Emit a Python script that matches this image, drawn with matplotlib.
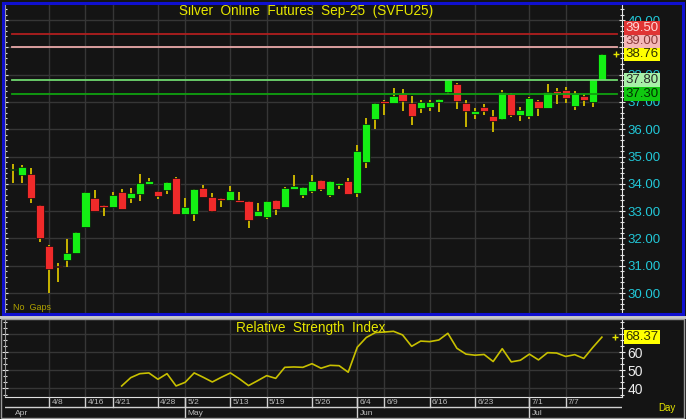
import matplotlib
matplotlib.use("Agg")
import matplotlib.pyplot as plt
import matplotlib.transforms as mtransforms
from matplotlib.patches import Rectangle
from matplotlib.ticker import MultipleLocator

plt.rcParams['font.family'] = ['Liberation Sans', 'DejaVu Sans']

# ---- data ----
dates = ['4/2', '4/3', '4/4', '4/7', '4/8', '4/9', '4/10', '4/11', '4/16', '4/17',
         '4/18', '4/21', '4/22', '4/23', '4/24', '4/25', '4/28', '4/29', '4/30', '5/2',
         '5/6', '5/7', '5/8', '5/9', '5/13', '5/14', '5/15', '5/16', '5/19', '5/20',
         '5/21', '5/22', '5/23', '5/26', '5/27', '5/28', '5/29', '5/30', '6/4', '6/5',
         '6/6', '6/9', '6/10', '6/11', '6/12', '6/13', '6/16', '6/17', '6/18', '6/19',
         '6/20', '6/23', '6/24', '6/25', '6/26', '6/27', '6/30', '7/1', '7/2', '7/3',
         '7/4', '7/7', '7/8', '7/9', '7/10', '7/11']

opens = [34.50, 34.33, 34.38, 33.22, 31.73, 31.00, 31.21, 31.48, 32.41, 33.49,
         33.22, 33.14, 33.72, 33.49, 33.63, 34.00, 33.73, 33.76, 34.22, 32.89,
         32.90, 33.86, 33.53, 33.49, 33.40, 33.42, 33.36, 32.81, 32.80, 33.40,
         33.16, 33.82, 33.59, 33.74, 34.16, 33.60, 33.97, 34.09, 33.66, 34.80,
         36.39, 37.02, 36.97, 37.29, 36.95, 36.79, 36.81, 36.99, 37.36, 37.66,
         36.96, 36.56, 36.81, 36.48, 36.38, 37.29, 36.53, 36.48, 37.04, 36.79,
         37.39, 37.44, 36.86, 37.22, 36.99, 37.80]
highs = [34.73, 34.69, 34.59, 33.22, 31.75, 31.11, 31.97, 32.22, 33.69, 33.76,
         33.22, 33.69, 33.83, 33.86, 34.36, 34.20, 33.73, 34.07, 34.27, 33.49,
         33.82, 33.96, 33.66, 33.49, 33.93, 33.70, 33.36, 33.30, 33.36, 33.40,
         33.90, 34.32, 33.89, 34.32, 34.16, 34.09, 34.05, 34.20, 35.42, 36.40,
         36.95, 37.09, 37.50, 37.47, 37.21, 37.07, 37.09, 37.11, 37.86, 37.71,
         37.09, 36.78, 36.91, 36.69, 37.44, 37.32, 36.83, 37.19, 37.09, 37.66,
         37.52, 37.55, 37.41, 37.30, 37.83, 38.76]
lows = [34.04, 34.04, 33.31, 31.88, 30.01, 30.41, 30.94, 31.48, 32.41, 33.00,
        32.83, 33.14, 33.09, 33.29, 33.38, 34.00, 33.45, 33.63, 32.90, 32.89,
        32.65, 33.53, 32.98, 33.16, 33.40, 33.32, 32.40, 32.81, 32.71, 32.87,
        33.16, 33.82, 33.49, 33.66, 33.75, 33.53, 33.81, 33.64, 33.53, 34.60,
        36.00, 36.53, 36.95, 36.68, 36.15, 36.58, 36.68, 36.64, 37.30, 36.75,
        36.09, 36.38, 36.51, 35.91, 36.33, 36.46, 36.29, 36.38, 36.48, 36.79,
        36.92, 36.95, 36.70, 36.84, 36.83, 37.80]
closes = [34.55, 34.62, 33.47, 32.00, 30.88, 30.94, 31.47, 32.22, 33.69, 33.00,
          33.14, 33.59, 33.09, 33.65, 34.02, 34.10, 33.57, 34.07, 32.90, 33.15,
          33.82, 33.53, 33.01, 33.40, 33.73, 33.32, 32.67, 32.99, 33.36, 33.07,
          33.86, 33.93, 33.89, 34.09, 33.81, 34.09, 34.05, 33.64, 35.19, 36.18,
          36.95, 36.96, 37.22, 37.02, 36.48, 36.99, 36.99, 37.11, 37.86, 37.02,
          36.66, 36.66, 36.66, 36.29, 37.35, 36.53, 36.69, 37.14, 36.79, 37.35,
          37.32, 37.15, 37.29, 37.08, 37.83, 38.76]

rsi_start = '4/22'
rsi = [41.4, 46.0, 48.2, 48.6, 45.1, 48.2, 41.4, 43.4, 48.6, 46.2,
       43.6, 46.2, 48.6, 45.3, 41.6, 44.3, 47.1, 45.6, 51.7, 51.9,
       51.7, 53.7, 51.2, 52.8, 52.6, 49.0, 62.8, 68.2, 70.9, 71.2,
       71.6, 69.6, 63.3, 66.2, 65.9, 66.8, 70.5, 62.2, 59.0, 58.4,
       58.8, 54.9, 62.0, 54.7, 55.6, 59.0, 55.8, 59.8, 59.6, 57.7,
       58.7, 56.6, 62.7, 68.37]

level_values = [39.50, 39.00, 37.80, 37.30]
level_colors = ['#b01e1e', '#e8a8a8', '#6fd86f', '#10a010']
level_box_bg = ['#e03434', '#f4b8b8', '#a8f0a8', '#10c810']
level_box_fg = ['#ffd8d8', '#8a3a3a', '#2a2a2a', '#003000']

tick_dates = ['4/8', '4/16', '4/21', '4/28', '5/2', '5/13', '5/19', '5/26',
              '6/4', '6/9', '6/16', '6/23', '7/1', '7/7']
month_names = ['Apr', 'May', 'Jun', 'Jul']
month_first = ['4/2', '5/2', '6/4', '7/1']

title = 'Silver  Online  Futures  Sep-25  (SVFU25)'

# ---- layout (pixel based) ----
W, H = 686, 419
BG = '#141414'
GRID = '#363636'
WICK = '#c8b400'
YEL = '#e6e600'


def rect(x0, y0, x1, y1):
    return [x0 / W, 1 - y1 / H, (x1 - x0) / W, (y1 - y0) / H]


fig = plt.figure(figsize=(W / 100, H / 100), dpi=100, facecolor=BG)

x = list(range(len(dates)))
xlim = (-0.88, 67.22)
tick_idx = [dates.index(d) for d in tick_dates]

# ---- price panel ----
ax = fig.add_axes(rect(5, 4, 622, 313), facecolor=BG)
ax.set_xlim(*xlim)
ax.set_ylim(29.27, 40.59)
for i in tick_idx:
    ax.axvline(i, color=GRID, lw=1, zorder=0)
for v in range(30, 41):
    ax.axhline(v, color=GRID, lw=1, zorder=0)

ax.vlines(x, lows, highs, color=WICK, lw=1.4, zorder=2)
body_bottom = [min(o, c) for o, c in zip(opens, closes)]
body_height = [max(abs(c - o), 0.05) for o, c in zip(opens, closes)]
body_color = ['#14f014' if c >= o else '#f02a2a' for o, c in zip(opens, closes)]
ax.bar(x, body_height, bottom=body_bottom, width=0.9, color=body_color,
       edgecolor='#0c0c0c', linewidth=0.5, zorder=3)

for v, c in zip(level_values, level_colors):
    ax.axhline(v, xmin=0.011, xmax=0.992, color=c, lw=1.3, zorder=4)

ax.plot([len(dates) + 0.55], [closes[-1]], marker='+', color=YEL, ms=4,
        mew=1, clip_on=False, zorder=5)

ax.set_yticks(range(30, 41))
ax.set_yticklabels([f'{v:.2f}' for v in range(30, 41)])
ax.yaxis.set_minor_locator(MultipleLocator(0.2))
ax.yaxis.tick_right()
ax.tick_params(axis='y', which='both', left=True, right=True, labelleft=False,
               labelright=True, direction='inout', color='#e0e0e0', width=0.8)
ax.tick_params(axis='y', which='major', length=5, pad=1.5, labelsize=9.5,
               labelcolor='#22c8d8')
ax.tick_params(axis='y', which='minor', length=3)
ax.set_xticks([])
for s in ['top', 'bottom']:
    ax.spines[s].set_visible(False)
ax.spines['right'].set_color('#e8e8e8')
ax.spines['left'].set_color('#9a9a9a')

# boxed value labels, stacked so they do not overlap
labels = [(v, f'{v:.2f}', bg, fg) for v, bg, fg in
          zip(level_values, level_box_bg, level_box_fg)]
labels.append((closes[-1], f'{closes[-1]:.2f}', '#ffff00', '#303000'))
labels.sort()
trans = mtransforms.blended_transform_factory(ax.transAxes, ax.transData)
prev = -1e9
for v, txt, bg, fg in labels:
    pos = max(v, prev + 0.47)
    prev = pos
    ax.text(1.0055, pos, txt, transform=trans, ha='left', va='center',
            fontsize=9.5, color=fg, clip_on=False, zorder=10,
            bbox=dict(boxstyle='square,pad=0.08', fc=bg, ec='none'))

ax.text(0.013, 0.004, 'No  Gaps', transform=ax.transAxes, fontsize=6.5,
        color='#b0a200', ha='left', va='bottom')

# ---- RSI panel ----
rax = fig.add_axes(rect(5, 319, 622, 397), facecolor=BG)
rax.set_xlim(*xlim)
rax.set_ylim(35.3, 78.4)
for i in tick_idx:
    rax.axvline(i, color=GRID, lw=1, zorder=0)
for v in [40, 50, 60, 70]:
    rax.axhline(v, color=GRID, lw=1, zorder=0)
r0 = dates.index(rsi_start)
rax.plot(range(r0, r0 + len(rsi)), rsi, color='#c8c000', lw=1.2, zorder=3)
rax.plot([len(dates) + 0.4], [rsi[-1]], marker='+', color=YEL, ms=4, mew=1,
         clip_on=False)
rax.set_yticks([40, 50, 60, 70])
rax.set_yticklabels(['40', '50', '60', '70'])
rax.yaxis.set_minor_locator(MultipleLocator(10 / 3))
rax.yaxis.tick_right()
rax.tick_params(axis='y', which='both', left=True, right=True, labelleft=False,
                labelright=True, direction='inout', color='#e0e0e0', width=0.8)
rax.tick_params(axis='y', which='major', length=5, pad=1.5, labelsize=10,
                labelcolor='#ececec')
rax.tick_params(axis='y', which='minor', length=3)
rax.set_xticks([])
rax.spines['top'].set_visible(False)
rax.spines['bottom'].set_color('#e0e0e0')
rax.spines['right'].set_color('#e8e8e8')
rax.spines['left'].set_color('#9a9a9a')
rtrans = mtransforms.blended_transform_factory(rax.transAxes, rax.transData)
rax.text(1.0055, rsi[-1], f'{rsi[-1]:.2f}', transform=rtrans, ha='left',
         va='center', fontsize=9.5, color='#303000', clip_on=False, zorder=10,
         bbox=dict(boxstyle='square,pad=0.08', fc='#ffff00', ec='none'))

# ---- date axis ----
dax = fig.add_axes(rect(5, 397, 622, 419), facecolor=BG)
dax.set_xlim(*xlim)
dax.set_ylim(22, 0)
dax.axis('off')
dax.axhline(10, color='#d0d0d0', lw=1)
for i, d in zip(tick_idx, tick_dates):
    dax.plot([i, i], [0, 10], color='#d0d0d0', lw=1)
    dax.text(i + 0.25, 5.8, d, fontsize=6, color='#bcbcbc', ha='left', va='center')
for name, d in zip(month_names, month_first):
    i = dates.index(d)
    if i > 0:
        dax.plot([i, i], [0, 22], color='#d0d0d0', lw=1)
    dax.text(i + 0.25, 16, name, fontsize=6, color='#bcbcbc', ha='left', va='center')

# ---- frames and titles ----
fig.patches.append(Rectangle((0, 1 - 318.5 / H), 1, 3 / H, transform=fig.transFigure,
                             fc='#c8c8c8', ec='none', zorder=5))
fig.patches.append(Rectangle((2.5 / W, 1 - 314 / H), 680.5 / W, 311.5 / H,
                             transform=fig.transFigure, fill=False,
                             ec='#1010d0', lw=2.2, zorder=6))
fig.patches.append(Rectangle((1 / W, 1 / H), 683 / W, (H - 320) / H,
                             transform=fig.transFigure, fill=False,
                             ec='#9a9a9a', lw=1, zorder=6))
fig.text(306 / W, 1 - 11.5 / H, title, ha='center', va='center', fontsize=9.8,
         color=YEL)
fig.text(311 / W, 1 - 328 / H, 'Relative  Strength  Index', ha='center',
         va='center', fontsize=9.8, color=YEL)
fig.text(667 / W, 1 - 408 / H, 'Day', ha='center', va='center', fontsize=7,
         color=YEL)

fig.savefig('out.png', dpi=100, facecolor=BG)
